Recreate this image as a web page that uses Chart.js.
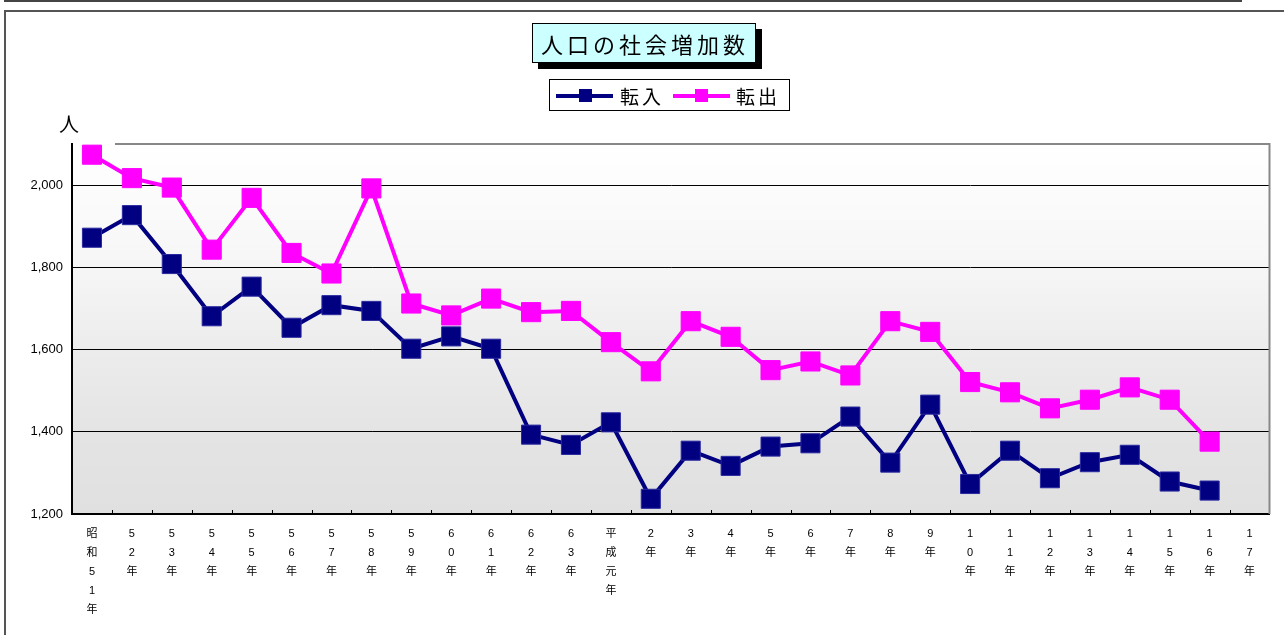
<!DOCTYPE html>
<html lang="ja">
<head>
<meta charset="utf-8">
<title>人口の社会増加数</title>
<script src="https://cdn.jsdelivr.net/npm/chart.js@4.4.1/dist/chart.umd.min.js"></script>
<style>
  html, body { margin: 0; padding: 0; background: #fff; }
  body { width: 1284px; height: 635px; position: relative; overflow: hidden; font-family: "Noto Sans CJK JP", sans-serif; }
  #topBox { position: absolute; left: 4px; top: -21px; width: 1234px; height: 19px; border: 2px solid #444; }
  #frame { position: absolute; left: 4px; top: 10px; width: 1400px; height: 800px; border-left: 2px solid #555; border-top: 2px solid #555; }
  #chartCanvas { position: absolute; left: 0; top: 0; }
  #title { position: absolute; left: 532px; top: 23px; width: 214px; height: 38px; padding-left: 8px;
           background: #ccffff; border: 1px solid #000; box-shadow: 6px 6px 0 #000;
           font-size: 22px; letter-spacing: 4px; line-height: 38px; white-space: nowrap; color: #000; }
  #legend { position: absolute; left: 549px; top: 79px; width: 239px; height: 30px; border: 1px solid #000; background: #fff; }
  .lgLine { position: absolute; top: 14px; height: 4px; width: 57px; }
  .lgMark { position: absolute; top: 9px; width: 13px; height: 13px; }
  .lgText { position: absolute; top: 0; line-height: 31px; font-size: 19px; letter-spacing: 3px; color: #000; white-space: nowrap; }
  #unit { position: absolute; left: 59px; top: 113px; font-size: 20px; line-height: 22px; color: #000; }
</style>
</head>
<body>
<div id="topBox"></div>
<div id="frame"></div>
<canvas id="chartCanvas" width="1284" height="635"></canvas>
<div id="title">人口の社会増加数</div>
<div id="legend">
  <div class="lgLine" style="left:6px;background:#000080"></div>
  <div class="lgMark" style="left:29px;background:#000080"></div>
  <div class="lgText" style="left:70px">転入</div>
  <div class="lgLine" style="left:123px;background:#ff00ff"></div>
  <div class="lgMark" style="left:145px;background:#ff00ff"></div>
  <div class="lgText" style="left:186px">転出</div>
</div>
<div id="unit">人</div>
<script>
// 年次（昭和51年〜平成17年）
const years = [
  '昭和51年', '52年', '53年', '54年', '55年', '56年', '57年', '58年', '59年', '60年',
  '61年', '62年', '63年', '平成元年', '2年', '3年', '4年', '5年', '6年', '7年',
  '8年', '9年', '10年', '11年', '12年', '13年', '14年', '15年', '16年', '17年'
];

// 転入（人）
const tennyu = [
  1872, 1927, 1808, 1681, 1753, 1653, 1708, 1694, 1602, 1632,
  1602, 1393, 1368, 1423, 1237, 1354, 1317, 1364, 1372, 1437,
  1325, 1466, 1273, 1354, 1287, 1326, 1344, 1279, 1257, null
];

// 転出（人）
const tenshutsu = [
  2074, 2017, 1994, 1843, 1969, 1835, 1785, 1992, 1712, 1683,
  1724, 1691, 1694, 1618, 1547, 1669, 1631, 1550, 1571, 1537,
  1669, 1643, 1521, 1496, 1457, 1478, 1508, 1478, 1376, null
];

// 縦書きラベル用に一文字ずつに分ける
const xLabels = years.map(y => y.split(''));

const fontFamily = "'Liberation Sans', 'Noto Sans CJK JP', sans-serif";

// 描画領域の背景と枠、目盛り
const plotFrame = {
  id: 'plotFrame',
  beforeDraw(chart) {
    const ctx = chart.ctx;
    const a = chart.chartArea;
    const g = ctx.createLinearGradient(0, a.top, 0, a.bottom);
    g.addColorStop(0, '#ffffff');
    g.addColorStop(0.33, '#f6f6f6');
    g.addColorStop(0.56, '#ececec');
    g.addColorStop(0.78, '#e4e4e4');
    g.addColorStop(1, '#e0e0e0');
    ctx.save();
    ctx.fillStyle = g;
    ctx.fillRect(a.left, a.top, a.right - a.left, a.bottom - a.top);
    ctx.restore();
  },
  beforeDatasetsDraw(chart) {
    const ctx = chart.ctx;
    const a = chart.chartArea;
    const xs = chart.scales.x;
    ctx.save();
    ctx.strokeStyle = '#888';
    ctx.lineWidth = 2;
    ctx.beginPath();
    ctx.moveTo(a.left + 43, a.top);
    ctx.lineTo(a.right, a.top);
    ctx.lineTo(a.right, a.bottom);
    ctx.stroke();
    // x軸の目盛り（内向き）
    const step = xs.getPixelForValue(1) - xs.getPixelForValue(0);
    ctx.strokeStyle = '#000';
    ctx.lineWidth = 1;
    ctx.beginPath();
    for (let i = 1; i < years.length; i++) {
      const x = Math.round(xs.getPixelForValue(i) - step / 2) + 0.5;
      ctx.moveTo(x, a.bottom);
      ctx.lineTo(x, a.bottom - 4);
    }
    ctx.stroke();
    ctx.restore();
  }
};

const ctx = document.getElementById('chartCanvas').getContext('2d');

const chart = new Chart(ctx, {
  type: 'line',
  data: {
    labels: xLabels,
    datasets: [
      {
        label: '転入',
        data: tennyu,
        borderColor: '#000080',
        backgroundColor: '#000080',
        borderWidth: 4,
        pointStyle: 'rect',
        pointRadius: 13.5,
        pointBorderWidth: 1,
        pointBorderColor: '#2a2aa0',
        pointBackgroundColor: '#000080',
        tension: 0,
        clip: false
      },
      {
        label: '転出',
        data: tenshutsu,
        borderColor: '#ff00ff',
        backgroundColor: '#ff00ff',
        borderWidth: 4,
        pointStyle: 'rect',
        pointRadius: 13.5,
        pointBorderWidth: 1,
        pointBorderColor: '#ff00ff',
        pointBackgroundColor: '#ff00ff',
        tension: 0,
        clip: false
      }
    ]
  },
  options: {
    responsive: false,
    animation: false,
    layout: {
      padding: { left: 0, right: 13, top: 144, bottom: 0 }
    },
    plugins: {
      legend: { display: false },
      title: { display: false },
      tooltip: { enabled: false }
    },
    scales: {
      x: {
        offset: true,
        grid: { display: false, drawTicks: false },
        border: { color: '#000', width: 2 },
        ticks: {
          autoSkip: false,
          maxRotation: 0,
          minRotation: 0,
          padding: 10,
          color: '#000',
          font: { family: fontFamily, size: 11, lineHeight: '19px' }
        },
        afterFit: scale => { scale.height = 121; }
      },
      y: {
        min: 1200,
        max: 2100,
        grid: { color: '#000', lineWidth: 1, drawTicks: false },
        border: { color: '#000', width: 2 },
        ticks: {
          stepSize: 200,
          includeBounds: false,
          padding: 9,
          color: '#000',
          font: { family: fontFamily, size: 13 },
          callback: v => v.toLocaleString('en-US')
        },
        afterFit: scale => { scale.width = 72; }
      }
    }
  },
  plugins: [plotFrame]
});
</script>
</body>
</html>
